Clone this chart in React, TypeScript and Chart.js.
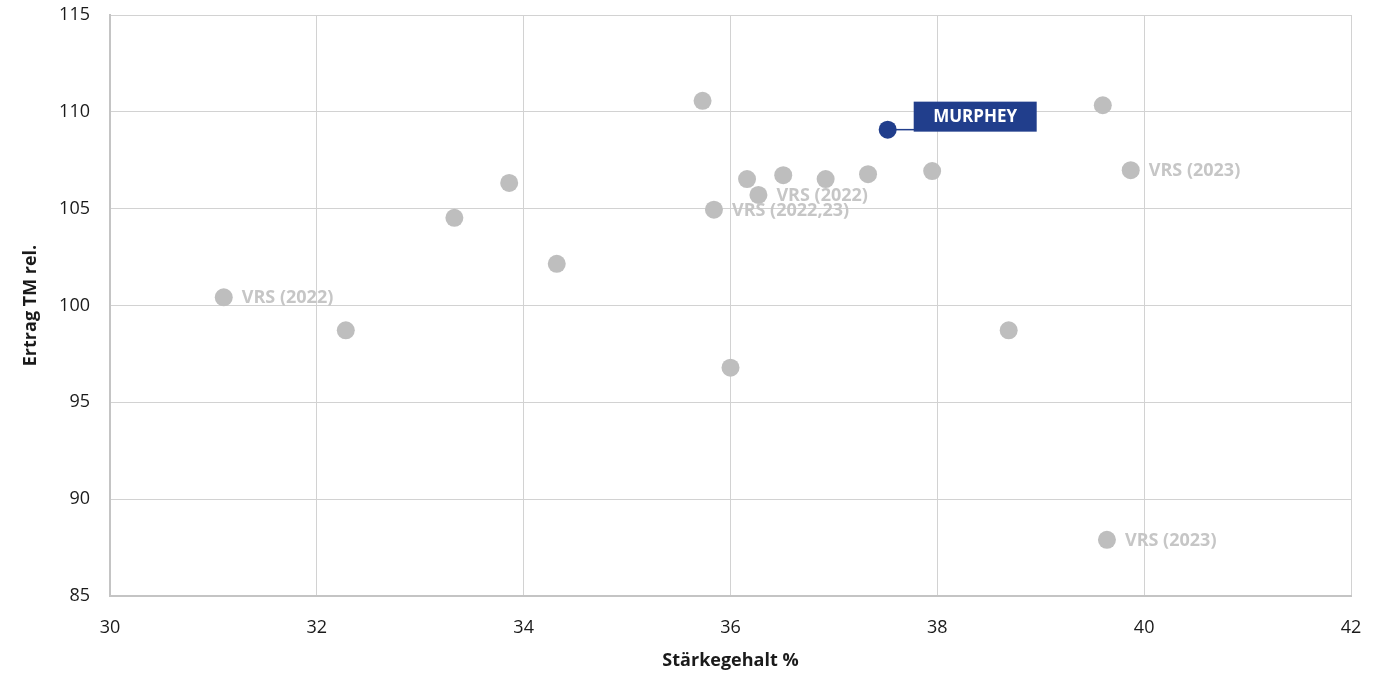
import React, { useEffect, useRef } from "react";
import { Chart, registerables } from "chart.js";

Chart.register(...registerables);

// ---- data ----
const starchPct = [31.1, 32.28, 33.33, 33.86, 34.32, 35.73, 35.84, 36.0, 36.16, 36.27, 36.51, 36.92, 37.33, 37.95, 38.69, 39.6, 39.87, 39.64];
const yieldRel = [100.42, 98.72, 104.53, 106.33, 102.15, 110.57, 104.95, 96.79, 106.53, 105.71, 106.73, 106.53, 106.78, 106.94, 98.72, 110.34, 106.99, 87.9];
const pointLabels = ["VRS (2022)", "", "", "", "", "", "VRS (2022,23)", "", "", "VRS (2022)", "", "", "", "", "", "", "VRS (2023)", "VRS (2023)"];
const highlightName = "MURPHEY";
const highlightStarch = [37.52];
const highlightYield = [109.08];
const xTitle = "Stärkegehalt %";
const yTitle = "Ertrag TM rel.";

const GREY = "#bebebe";
const LABEL_GREY = "#c6c6c6";
const BLUE = "#213e8c";
const FONT = "'Open Sans', 'Noto Sans', sans-serif";

const labelPlugin = {
  id: "pointLabelsPlugin",
  afterDatasetsDraw(chart: any) {
    const ctx = chart.ctx;
    ctx.save();
    ctx.font = `bold 18px ${FONT}`;
    ctx.fillStyle = LABEL_GREY;
    ctx.textBaseline = "middle";
    ctx.textAlign = "left";
    const meta0 = chart.getDatasetMeta(0);
    meta0.data.forEach((el: any, i: number) => {
      const t = pointLabels[i];
      if (!t) return;
      ctx.fillText(t, el.x + 18, el.y + 1);
    });
    const meta1 = chart.getDatasetMeta(1);
    meta1.data.forEach((p: any) => {
      ctx.strokeStyle = BLUE;
      ctx.lineWidth = 1.5;
      ctx.beginPath();
      ctx.moveTo(p.x, p.y);
      ctx.lineTo(p.x + 27, p.y);
      ctx.stroke();
      const bx = p.x + 26;
      const by = p.y - 28;
      const bw = 123;
      const bh = 30;
      ctx.fillStyle = BLUE;
      ctx.fillRect(bx, by, bw, bh);
      ctx.fillStyle = "#ffffff";
      ctx.font = `bold 17px ${FONT}`;
      ctx.textAlign = "center";
      ctx.fillText(highlightName, bx + bw / 2, by + bh / 2 + 1);
    });
    ctx.restore();
  },
};

export default function App() {
  const ref = useRef<HTMLCanvasElement | null>(null);
  useEffect(() => {
    document.body.style.margin = "0";
    if (!ref.current) return;
    const chart = new Chart(ref.current, {
      type: "scatter",
      data: {
        datasets: [
          {
            label: "Sorten",
            data: starchPct.map((x, i) => ({ x, y: yieldRel[i] })),
            backgroundColor: GREY,
            borderColor: GREY,
            pointRadius: 9,
            pointHoverRadius: 9,
            borderWidth: 0,
          },
          {
            label: highlightName,
            data: highlightStarch.map((x, i) => ({ x, y: highlightYield[i] })),
            backgroundColor: BLUE,
            borderColor: BLUE,
            pointRadius: 9,
            pointHoverRadius: 9,
            borderWidth: 0,
          },
        ],
      },
      options: {
        responsive: false,
        animation: false,
        layout: { padding: { left: 16, right: 31, top: 15, bottom: 0 } },
        plugins: { legend: { display: false }, tooltip: { enabled: false } },
        scales: {
          x: {
            type: "linear",
            min: 30,
            max: 42,
            ticks: { stepSize: 2, color: "#1a1a1a", font: { family: FONT, size: 18, weight: "500" }, padding: 0 },
            grid: { color: "#d2d2d2", lineWidth: 1, drawTicks: true, tickLength: 21, tickColor: "rgba(0,0,0,0)" },
            border: { color: "#c4c4c4", width: 2 },
            title: { display: true, text: xTitle, color: "#1a1a1a", font: { family: FONT, size: 18, weight: "bold" } },
            afterFit: (s: any) => { s.height = 80; },
          },
          y: {
            type: "linear",
            min: 85,
            max: 115,
            ticks: { stepSize: 5, color: "#1a1a1a", font: { family: FONT, size: 18, weight: "500" }, padding: 0 },
            grid: { color: "#d2d2d2", lineWidth: 1, drawTicks: true, tickLength: 20, tickColor: "rgba(0,0,0,0)" },
            border: { color: "#c4c4c4", width: 2 },
            title: { display: true, text: yTitle, color: "#1a1a1a", font: { family: FONT, size: 18, weight: "bold" } },
            afterFit: (s: any) => { s.width = 94; },
          },
        },
      },
      plugins: [labelPlugin],
    } as any);
    return () => chart.destroy();
  }, []);
  return <canvas ref={ref} width={1382} height={676} style={{ display: "block" }} />;
}
